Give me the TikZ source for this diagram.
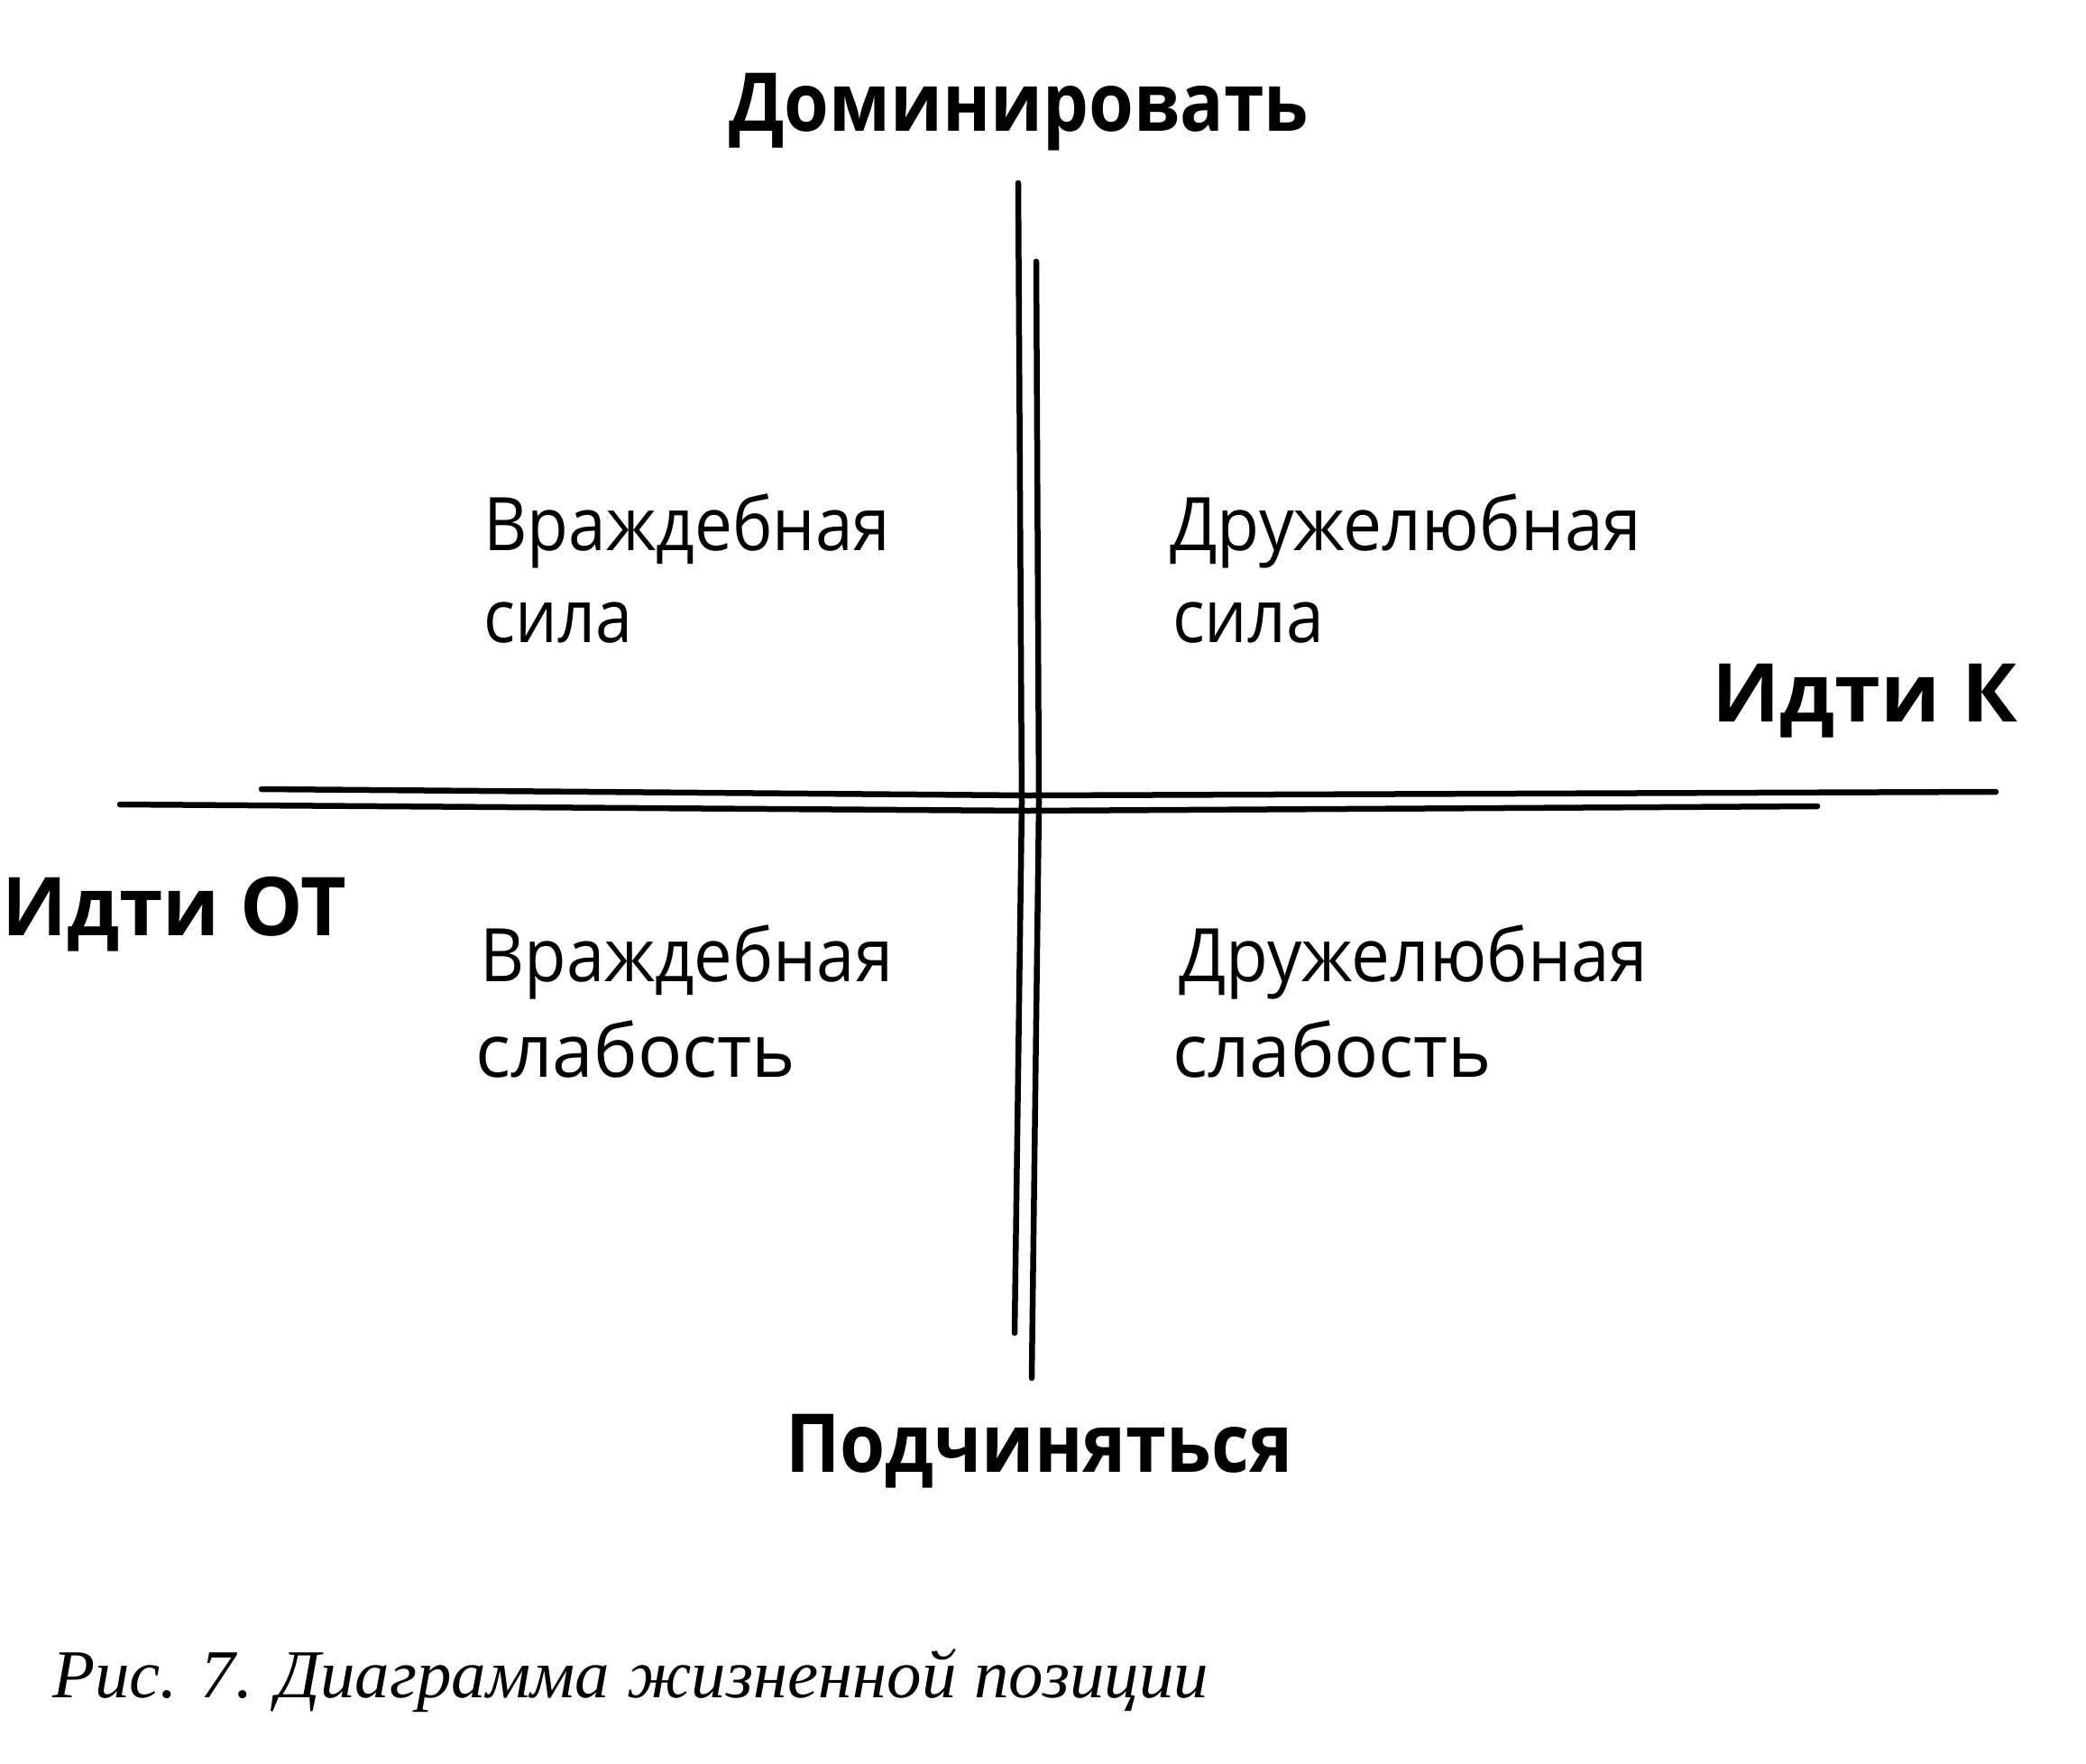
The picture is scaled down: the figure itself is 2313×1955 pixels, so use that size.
\documentclass[tikz,border=0pt]{standalone}
\usepackage{fontspec}
\usepackage{graphicx}
\setmainfont{Open Sans}
\newfontfamily\capfont{Liberation Serif}
\newcommand{\fitw}[2]{\resizebox{#1}{\height}{#2}}
\begin{document}
\begin{tikzpicture}[x=1pt,y=-1pt,
  axisline/.style={line width=6.5pt, line cap=round, line join=round, black},
  quad/.style={font=\fontsize{82}{90}\selectfont, inner sep=0pt, anchor=base west},
  axislbl/.style={font=\fontsize{90}{100}\selectfont\bfseries, inner sep=0pt},
  capstyle/.style={font=\capfont\itshape\fontsize{76}{84}\selectfont, inner sep=0pt, anchor=base west}]
\useasboundingbox (0,0) rectangle (2313,1955);
\fill[white] (0,0) rectangle (2313,1955);
% axis lines
\coordinate (vLt) at (1129,203);
\coordinate (vLm) at (1133,890);
\coordinate (vLb) at (1125,1478);
\coordinate (vRt) at (1149,290);
\coordinate (vRm) at (1152,890);
\coordinate (vRb) at (1144,1528);
\coordinate (hUl) at (290,875);
\coordinate (hUm) at (1140,882);
\coordinate (hUr) at (2213,878);
\coordinate (hDl) at (133,892);
\coordinate (hDm) at (1140,899);
\coordinate (hDr) at (2015,894);
\draw[axisline] (vLt) -- (vLm) -- (vLb);
\draw[axisline] (vRt) -- (vRm) -- (vRb);
\draw[axisline] (hUl) -- (hUm) -- (hUr);
\draw[axisline] (hDl) -- (hDm) -- (hDr);
% axis labels
\node[axislbl, anchor=base west] (dom) at (808,145) {\fitw{643pt}{Доминировать}};
\node[axislbl, anchor=base west] (pod) at (871,1632) {\fitw{562pt}{Подчиняться}};
\node[axislbl, anchor=base west] (toward) at (1898,800) {\fitw{339pt}{Идти К}};
\node[axislbl, anchor=base west] (away) at (2,1037) {\fitw{382pt}{Идти ОТ}};
% quadrant labels
\node[quad] (vs1) at (536,610) {\fitw{451pt}{Враждебная}};
\node[quad] (vs2) at (536,712) {\fitw{165pt}{сила}};
\node[quad] (ds1) at (1297,610) {\fitw{523pt}{Дружелюбная}};
\node[quad] (ds2) at (1300,712) {\fitw{168pt}{сила}};
\node[quad] (vw1) at (532,1088) {\fitw{458pt}{Враждебная}};
\node[quad] (vw2) at (527,1194) {\fitw{355pt}{слабость}};
\node[quad] (dw1) at (1307,1088) {\fitw{520pt}{Дружелюбная}};
\node[quad] (dw2) at (1300,1194) {\fitw{354pt}{слабость}};
% caption
\node[capstyle] (caption) at (58,1882) {\fitw{1282pt}{Рис. 7. Диаграмма жизненной позиции}};
\end{tikzpicture}
\end{document}
